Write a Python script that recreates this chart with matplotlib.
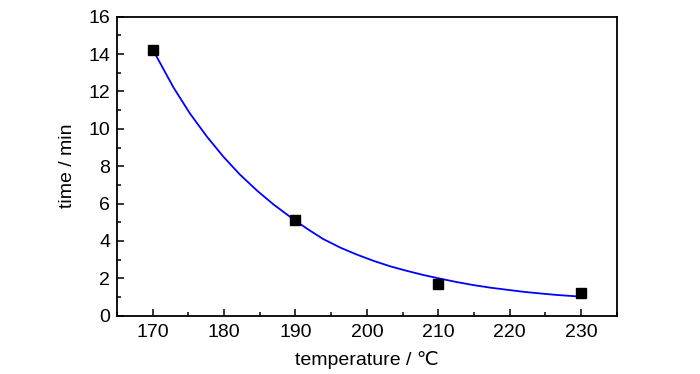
import matplotlib
matplotlib.use("Agg")
import matplotlib.pyplot as plt
from matplotlib.ticker import MultipleLocator

plt.rcParams['font.family'] = ['Liberation Sans', 'DejaVu Sans']

# measured data
temperature = [170, 190, 210, 230]
time_min = [14.2, 5.1, 1.7, 1.2]

# fitted curve
fit_x = [170.1, 172.9, 175.2, 177.6, 179.9, 182.2, 184.6, 186.9, 189.5,
         191.6, 193.9, 196.3, 198.6, 200.9, 203.3, 205.6, 207.9, 210.3,
         212.6, 214.9, 217.3, 219.6, 221.9, 224.3, 226.6, 229.6]
fit_y = [14.18, 12.22, 10.83, 9.58, 8.51, 7.56, 6.70, 5.96, 5.22,
         4.66, 4.10, 3.64, 3.27, 2.94, 2.64, 2.40, 2.18, 1.98,
         1.80, 1.64, 1.50, 1.39, 1.28, 1.19, 1.11, 1.03]

fig = plt.figure(figsize=(7.0, 3.74), dpi=100)
ax = fig.add_axes([117/700, 1 - 315.7/374, (616.7-117)/700, (315.7-16.7)/374])

ax.plot(fit_x, fit_y, color='#0000ff', lw=1.3, zorder=2, solid_joinstyle='round')
ax.plot(temperature, time_min, ls='none', marker='s', ms=6.5, color='black', zorder=3)

ax.set_xlim(165, 235)
ax.set_ylim(0, 16)
ax.xaxis.set_major_locator(MultipleLocator(10))
ax.xaxis.set_minor_locator(MultipleLocator(5))
ax.yaxis.set_major_locator(MultipleLocator(2))
ax.yaxis.set_minor_locator(MultipleLocator(1))
ax.tick_params(which='both', direction='in', top=False, right=False, labelsize=14, width=1.1)
ax.tick_params(which='major', length=5)
ax.tick_params(which='minor', length=3)
ax.tick_params(axis='x', pad=6)
ax.tick_params(axis='y', pad=5)
for s in ax.spines.values():
    s.set_linewidth(1.3)

ax.set_xlabel('temperature / ℃', fontsize=14, labelpad=7)
ax.set_ylabel('time / min', fontsize=14, labelpad=9)

fig.savefig('out.png', dpi=100)
